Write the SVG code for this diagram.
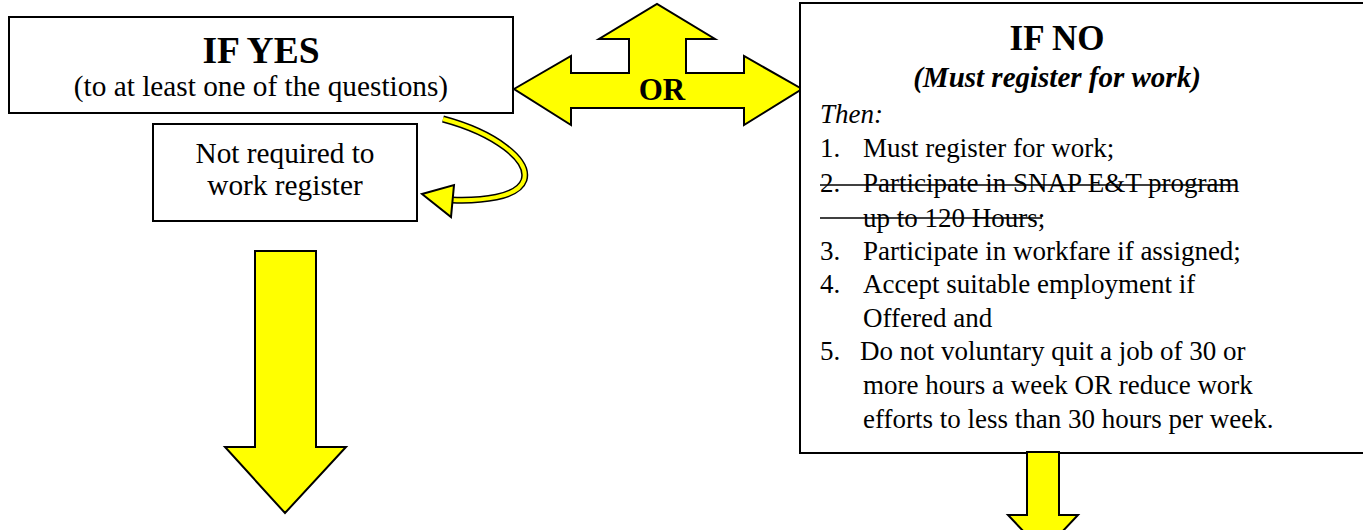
<svg xmlns="http://www.w3.org/2000/svg" width="1363" height="530" viewBox="0 0 1363 530">
<style>
.box{fill:#fff;stroke:#000;stroke-width:2}
.arr{fill:#ffff00;stroke:#000;stroke-width:2;stroke-linejoin:miter}
.t{font-family:"Liberation Serif","Times New Roman",serif;fill:#000}
.h{font-weight:bold}
.s{font-size:29.3px}
.l{font-size:27px}
.strike{stroke:#000;stroke-width:1.6}
</style>
<rect width="1363" height="530" fill="#fff"/>
<g id="connectors">
  <polygon class="arr" points="514,89 571,56 571,73 629,73 629,39 599,39 657,4 715,39 686,39 686,73 744,73 744,56 802,89 744,125 744,108 571,108 571,125"/>
  <text class="t" x="662" y="100" text-anchor="middle" font-size="31" font-weight="bold">OR</text>
  <path d="M443,119 C495,133 530,160 524,180 C518,198 480,201 452,200" fill="none" stroke="#000" stroke-width="7"/>
  <path d="M443,119 C495,133 530,160 524,180 C518,198 480,201 452,200" fill="none" stroke="#ffff00" stroke-width="4"/>
  <polygon class="arr" points="422,194 454,185 451,217"/>
  <polygon class="arr" points="255,251 316,251 316,447 346,447 285,513 225,447 255,447"/>
</g>
<g id="node-yes">
  <rect class="box" x="9" y="17" width="504" height="96"/>
  <text class="t h" x="261" y="63" text-anchor="middle" font-size="37.5">IF YES</text>
  <text class="t s" x="261" y="96" text-anchor="middle">(to at least one of the questions)</text>
</g>
<g id="node-not-required">
  <rect class="box" x="153" y="124" width="264" height="97"/>
  <text class="t s" x="285" y="163" text-anchor="middle">Not required to</text>
  <text class="t s" x="285" y="195" text-anchor="middle">work register</text>
</g>
<g id="node-no">
  <rect class="box" x="800" y="3" width="600" height="450"/>
  <text class="t h" x="1057" y="50" text-anchor="middle" font-size="35">IF NO</text>
  <text class="t" x="1057" y="87" text-anchor="middle" font-size="29" font-weight="bold" font-style="italic">(Must register for work)</text>
  <text class="t l" x="820" y="123" font-style="italic">Then:</text>
  <text class="t l" x="820" y="157">1.</text><text class="t l" x="863" y="157">Must register for work;</text>
  <text class="t l" x="820" y="192">2.</text><text class="t l" x="863" y="192">Participate in SNAP E&amp;T program</text>
  <line class="strike" x1="820" y1="185" x2="1237" y2="185"/>
  <text class="t l" x="863" y="227">up to 120 Hours;</text>
  <line class="strike" x1="820" y1="218" x2="1042" y2="218"/>
  <text class="t l" x="820" y="260">3.</text><text class="t l" x="863" y="260">Participate in workfare if assigned;</text>
  <text class="t l" x="820" y="293">4.</text><text class="t l" x="863" y="293">Accept suitable employment if</text>
  <text class="t l" x="863" y="327">Offered and</text>
  <text class="t l" x="820" y="360">5.</text><text class="t l" x="860" y="360">Do not voluntary quit a job of 30 or</text>
  <text class="t l" x="863" y="394">more hours a week OR reduce work</text>
  <text class="t l" x="863" y="428">efforts to less than 30 hours per week.</text>
</g>
<g id="connector-down-right">
  <polygon class="arr" points="1027,452 1059,452 1059,515 1078,515 1043,552 1008,515 1027,515"/>
</g>
</svg>
